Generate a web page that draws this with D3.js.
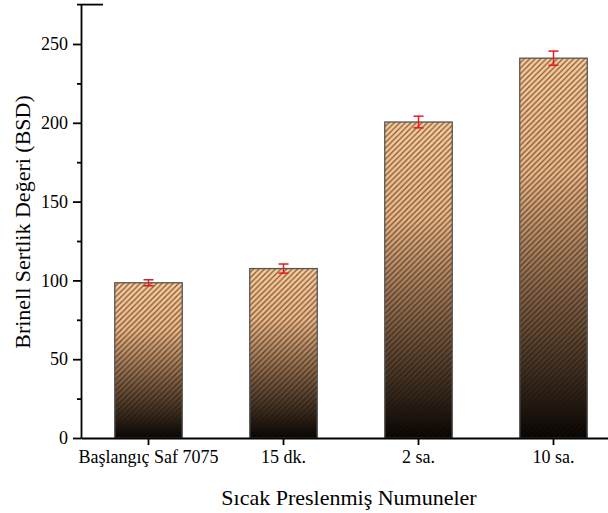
<!DOCTYPE html>
<html lang="tr">
<head>
	<meta charset="UTF-8">
	<title>Brinell Sertlik</title>
	<script src="https://d3js.org/d3.v7.min.js"></script>
	<style>
		* { margin: 0px; padding: 0px; }
		body { background: #fff; }
		text { font-family: "Liberation Serif", "Times New Roman", serif; fill: #000; }
	</style>
</head>
<body>
	<svg width="608" height="513"></svg>
	<script>
		var categories = ["Başlangıç Saf 7075", "15 dk.", "2 sa.", "10 sa."];
		var hardness = [98.5, 107.5, 200.5, 241];
		var errors = [1.9, 2.9, 3.7, 4.5];
		var yTicks = [0, 50, 100, 150, 200, 250];
		var yMinorTicks = [25, 75, 125, 175, 225];

		var svg = d3.select("svg");

		var x = d3.scaleBand()
			.domain(categories)
			.range([81, 621])
			.paddingInner(0.5)
			.paddingOuter(0.25);

		var y = d3.scaleLinear()
			.domain([0, 275])
			.range([438, 4.6]);

		var defs = svg.append("defs");

		// bar gradient, peach on top -> black at the base
		var grad = defs.append("linearGradient")
			.attr("id", "barGrad")
			.attr("x1", 0).attr("y1", 0)
			.attr("x2", 0).attr("y2", 1);
		grad.append("stop").attr("offset", "0%").attr("stop-color", "#fcca98");
		grad.append("stop").attr("offset", "30%").attr("stop-color", "#eeb685");
		grad.append("stop").attr("offset", "65%").attr("stop-color", "#7a5a40");
		grad.append("stop").attr("offset", "100%").attr("stop-color", "#050302");

		var hatch = defs.append("pattern")
			.attr("id", "hatch")
			.attr("patternUnits", "userSpaceOnUse")
			.attr("width", 5.5)
			.attr("height", 5.5);
		hatch.append("path")
			.attr("d", "M0,5.5 L5.5,0 M-1,1 L1,-1 M4.5,6.5 L6.5,4.5")
			.attr("stroke", "#1a1208")
			.attr("stroke-opacity", 0.6)
			.attr("stroke-width", 1.2);

		var bars = svg.append("g").attr("class", "bars");

		bars.selectAll("rect.fill")
			.data(hardness)
			.enter()
			.append("rect")
			.attr("class", "fill")
			.attr("x", (d, i) => x(categories[i]))
			.attr("y", d => y(d))
			.attr("width", x.bandwidth())
			.attr("height", d => y(0) - y(d))
			.attr("fill", "url(#barGrad)");

		bars.selectAll("rect.hatch")
			.data(hardness)
			.enter()
			.append("rect")
			.attr("class", "hatch")
			.attr("x", (d, i) => x(categories[i]))
			.attr("y", d => y(d))
			.attr("width", x.bandwidth())
			.attr("height", d => y(0) - y(d))
			.attr("fill", "url(#hatch)")
			.attr("stroke", "#555")
			.attr("stroke-width", 1.3);

		// error bars
		var err = svg.append("g").attr("class", "errors")
			.attr("stroke", "#e8191c")
			.attr("stroke-width", 1.5);

		hardness.forEach(function (v, i) {
			var cx = x(categories[i]) + x.bandwidth() / 2;
			err.append("line")
				.attr("x1", cx).attr("x2", cx)
				.attr("y1", y(v + errors[i])).attr("y2", y(v - errors[i]));
			err.append("line")
				.attr("x1", cx - 5).attr("x2", cx + 5)
				.attr("y1", y(v + errors[i])).attr("y2", y(v + errors[i]));
			err.append("line")
				.attr("x1", cx - 5).attr("x2", cx + 5)
				.attr("y1", y(v - errors[i])).attr("y2", y(v - errors[i]));
		});

		// y axis
		var yAxis = svg.append("g")
			.attr("transform", "translate(81,0)")
			.call(d3.axisLeft(y).tickValues(yTicks).tickSize(8).tickPadding(5).tickSizeOuter(0));
		svg.append("g")
			.attr("transform", "translate(81,0)")
			.call(d3.axisLeft(y).tickValues(yMinorTicks).tickSize(4).tickFormat("").tickSizeOuter(0))
			.select(".domain").remove();

		// x axis
		var xAxis = svg.append("g")
			.attr("transform", "translate(0,438)")
			.call(d3.axisBottom(x).tickSize(7).tickPadding(5).tickSizeOuter(0));

		svg.selectAll(".tick line, .domain")
			.attr("stroke", "#000")
			.attr("stroke-width", 1.8);
		svg.selectAll(".tick text")
			.attr("font-size", 18)
			.attr("font-family", "Liberation Serif, serif");

		// short cap at the top of the y axis
		svg.append("line")
			.attr("x1", 77).attr("x2", 103)
			.attr("y1", y(275)).attr("y2", y(275))
			.attr("stroke", "#000")
			.attr("stroke-width", 1.8);

		svg.append("text")
			.attr("transform", "translate(30,222) rotate(-90)")
			.attr("text-anchor", "middle")
			.attr("font-size", 22)
			.text("Brinell Sertlik Değeri (BSD)");

		svg.append("text")
			.attr("x", 349)
			.attr("y", 505)
			.attr("text-anchor", "middle")
			.attr("font-size", 22)
			.text("Sıcak Preslenmiş Numuneler");
	</script>
</body>
</html>
